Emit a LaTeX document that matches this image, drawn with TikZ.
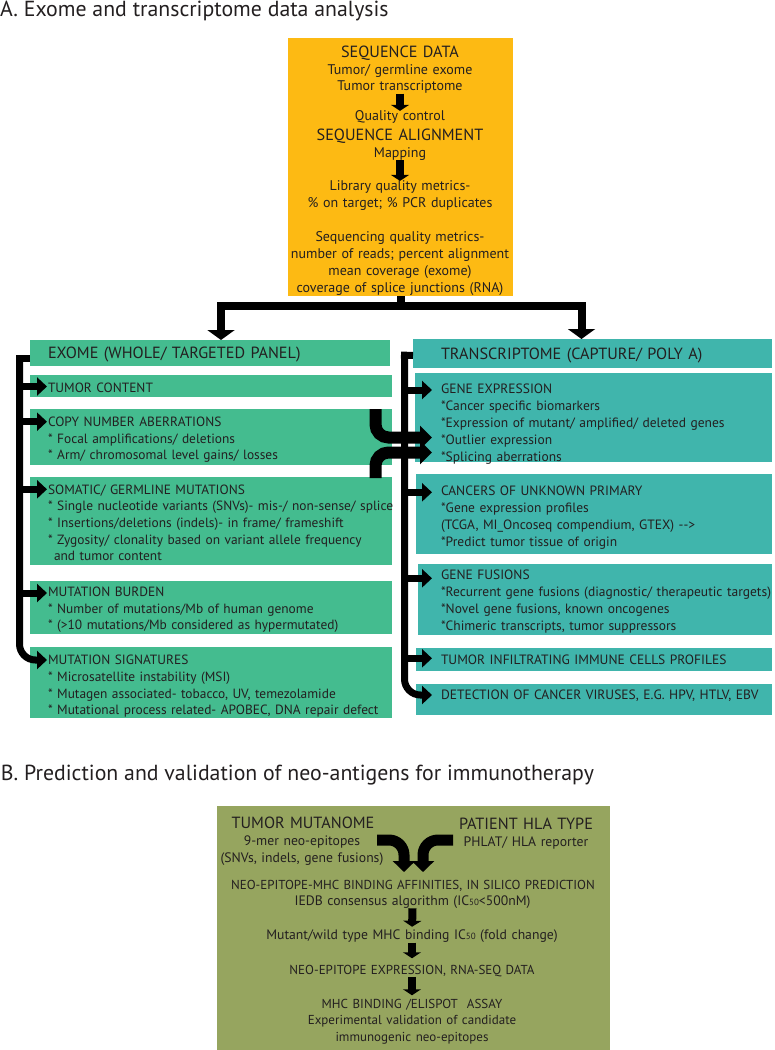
\documentclass[tikz,border=0pt]{standalone}
\usepackage{fontspec}
\setmainfont{PT Sans}
\usetikzlibrary{arrows.meta}
\definecolor{ybox}{RGB}{253,186,19}
\definecolor{gbox}{RGB}{68,188,143}
\definecolor{tbox}{RGB}{64,181,172}
\definecolor{obox}{RGB}{150,165,95}
\definecolor{ink}{RGB}{35,31,32}
\newcommand\fsTitle{\fontsize{21.8}{25}\selectfont}
\newcommand\fsHead{\fontsize{16.2}{18}\selectfont}
\newcommand\fsBody{\fontsize{14}{16.9}\selectfont}
\newcommand\fsLeft{\fontsize{13.4}{16.7}\selectfont}
\newcommand\fsRight{\fontsize{13.5}{17.1}\selectfont}
\newcommand\fsOl{\fontsize{13.7}{16.3}\selectfont}
\newcommand\fsOc{\fontsize{13}{16.3}\selectfont}
\newcommand\icsub{{\fontsize{9}{8}\selectfont 50}}
\begin{document}
\begin{tikzpicture}[x=1pt,y=-1pt,
  box/.style={inner sep=0pt,outer sep=0pt,anchor=north west},
  lt/.style={inner sep=0pt,outer sep=0pt,anchor=base west,align=left,text width=360pt,text=ink,font=\fsLeft},
  rt/.style={lt,font=\fsRight},
  ct/.style={inner sep=0pt,outer sep=0pt,anchor=base,align=center,text width=380pt,text=ink,font=\fsBody},
  hd/.style={lt,font=\fsHead},
  ttl/.style={inner sep=0pt,outer sep=0pt,anchor=base west,text=ink,font=\fsTitle},
  conn/.style={draw=black,line width=8pt,-{Triangle[width=27pt,length=10pt]}},
  brk/.style={draw=black,line width=7pt},
  brkarr/.style={draw=black,line width=7pt,-{Triangle[width=18pt,length=10pt]}},
  xarr/.style={draw=black,line width=12pt,rounded corners=13pt,-{Triangle[width=23pt,length=12pt]}},
  sarr/.style={draw=black,line width=8pt,-{Triangle[width=18pt,length=6pt]}},
]
\useasboundingbox (0,0) rectangle (775,1050);

% ---------- Titles
\node[ttl] (tA) at (0,16) {A. Exome and transcriptome data analysis};
\node[ttl] (tB) at (1,780.5) {B. Prediction and validation of neo-antigens for immunotherapy};

% ---------- Sequence box
\node[box,fill=ybox,minimum width=225pt,minimum height=258pt] (seq) at (288,38) {};
\node[ct,font=\fsHead] (sd) at (400,57.5) {SEQUENCE DATA};
\node[ct] (sd2) at (400,74) {Tumor/ germline exome\\Tumor transcriptome};
\node[ct] (qc) at (400,120.8) {Quality control};
\node[ct,font=\fsHead] (sa) at (400,140.8) {SEQUENCE ALIGNMENT};
\node[ct] (mp) at (400,157.5) {Mapping};
\node[ct] (lq) at (400,190.8) {Library quality metrics-\\\% on target; \% PCR duplicates};
\node[ct] (sq) at (400,241.5) {Sequencing quality metrics-\\number of reads; percent alignment\\mean coverage (exome)\\coverage of splice junctions (RNA)};
\draw[sarr] (sd2.south) -- (qc.north);
\draw[sarr] (mp.south) -- (lq.north);

% ---------- Exome column
\node[box,fill=gbox,minimum width=360pt,minimum height=26pt] (exh) at (30,340) {};
\node[box,fill=gbox,minimum width=362pt,minimum height=22pt] (tc) at (30,375) {};
\node[box,fill=gbox,minimum width=362pt,minimum height=56pt] (cn) at (30,409) {};
\node[box,fill=gbox,minimum width=362pt,minimum height=88pt] (sg) at (30,477) {};
\node[box,fill=gbox,minimum width=362pt,minimum height=53pt] (mb) at (30,581) {};
\node[box,fill=gbox,minimum width=362pt,minimum height=71pt] (ms) at (30,647) {};

\node[hd] (exht) at (48,358.5) {EXOME (WHOLE/ TARGETED PANEL)};
\node[lt] (tct) at (48,392) {TUMOR CONTENT};
\node[lt] (cnt) at (48,426.3) {COPY NUMBER ABERRATIONS\\{}* Focal amplifications/ deletions\\{}* Arm/ chromosomal level gains/ losses};
\node[lt] (sgt) at (48,494) {SOMATIC/ GERMLINE MUTATIONS\\{}* Single nucleotide variants (SNVs)- mis-/ non-sense/ splice\\{}* Insertions/deletions (indels)- in frame/ frameshift\\{}* Zygosity/ clonality based on variant allele frequency\\\hspace*{6pt}and tumor content};
\node[lt] (mbt) at (48,596.3) {MUTATION BURDEN\\{}* Number of mutations/Mb of human genome\\{}* (>10 mutations/Mb considered as hypermutated)};
\node[lt] (mst) at (48,664.6) {MUTATION SIGNATURES\\{}* Microsatellite instability (MSI)\\{}* Mutagen associated- tobacco, UV, temezolamide\\{}* Mutational process related- APOBEC, DNA repair defect};

% ---------- Transcriptome column
\node[box,fill=tbox,minimum width=359pt,minimum height=29pt] (trh) at (413,339) {};
\node[box,fill=tbox,minimum width=357pt,minimum height=89pt] (ge) at (415,373) {};
\node[box,fill=tbox,minimum width=356pt,minimum height=80pt] (cu) at (416,474) {};
\node[box,fill=tbox,minimum width=354pt,minimum height=71pt] (gf) at (418,564) {};
\node[box,fill=tbox,minimum width=356pt,minimum height=23pt] (ti) at (416,648) {};
\node[box,fill=tbox,minimum width=356pt,minimum height=31pt] (dv) at (416,684) {};

\node[hd] (trht) at (441,359) {TRANSCRIPTOME (CAPTURE/ POLY A)};
\node[rt] (get) at (441,393) {GENE EXPRESSION\\{}*Cancer specific biomarkers\\{}*Expression of mutant/ amplified/ deleted genes\\{}*Outlier expression\\{}*Splicing aberrations};
\node[rt] (cut) at (441,495.3) {CANCERS OF UNKNOWN PRIMARY\\{}*Gene expression profiles\\(TCGA, MI\_Oncoseq compendium, GTEX) -{}-{}>\\{}*Predict tumor tissue of origin};
\node[rt] (gft) at (441,579.6) {GENE FUSIONS\\{}*Recurrent gene fusions (diagnostic/ therapeutic targets)\\{}*Novel gene fusions, known oncogenes\\{}*Chimeric transcripts, tumor suppressors};
\node[rt] (tit) at (441,664.6) {TUMOR INFILTRATING IMMUNE CELLS PROFILES};
\node[rt] (dvt) at (441,699) {DETECTION OF CANCER VIRUSES, E.G. HPV, HTLV, EBV};

% ---------- Split connector
\coordinate (split) at (400.5,306);
\coordinate (exin) at (221,340);
\coordinate (trin) at (581.5,339);
\draw[conn] (seq.south) -- (split) -| (exin);
\draw[conn] (split) -| (trin);

% ---------- Left bracket
\draw[brk] ([yshift=-5pt]exh.west) -- (16,358);
\draw[brkarr,rounded corners=16pt] (19.5,358) -- (19.5,660) -- (47,660);
\draw[brkarr] (19.5,386.5) -- (47,386.5);
\draw[brkarr] (19.5,421.7) -- (47,421.7);
\draw[brkarr] (19.5,489.3) -- (47,489.3);
\draw[brkarr] (19.5,593) -- (47,593);

% ---------- Crossing arrows (exome -> gene expression)
\coordinate (x1s) at (375.5,409);
\coordinate (x1t) at (432,437.5);
\coordinate (x2s) at (375.5,478);
\coordinate (x2t) at (432,452.5);
\draw[xarr] (x1s) -- (375.5,437.5) -- (x1t);
\draw[xarr] (x2s) -- (375.5,452.5) -- (x2t);

% ---------- Right bracket
\draw[brk] ([yshift=-2pt]trh.west) -- (401,355);
\draw[brkarr,rounded corners=16pt] (404.5,355) -- (404.5,695) -- (432,695);
\draw[brkarr] (404.5,390) -- (432,390);
\draw[brkarr] (404.5,492.3) -- (432,492.3);
\draw[brkarr] (404.5,578.3) -- (432,578.3);
\draw[brkarr] (404.5,658.3) -- (432,658.3);

% ---------- Section B box
\node[box,fill=obox,minimum width=393pt,minimum height=244pt] (olive) at (217,806) {};
\node[ct,font=\fsHead] (tm) at (303,828.5) {TUMOR MUTANOME};
\node[ct,font=\fsOl] (tm2) at (302,845.7) {9-mer neo-epitopes\\(SNVs, indels, gene fusions)};
\node[ct,font=\fsHead] (hla) at (526,829) {PATIENT HLA TYPE};
\node[ct,font=\fsOl] (hla2) at (526,846.4) {PHLAT/ HLA reporter};
\node[ct,font=\fsOc] (neo) at (413,889.5) {NEO-EPITOPE-MHC BINDING AFFINITIES, IN SILICO PREDICTION};
\node[ct,font=\fsOl] (iedb) at (412.5,905.3) {IEDB consensus algorithm (IC\icsub<500nM)};
\node[ct,font=\fsOl] (mut) at (412,939.5) {Mutant/wild type MHC binding IC\icsub\ (fold change)};
\node[ct,font=\fsOc] (expr) at (412,974.5) {NEO-EPITOPE EXPRESSION, RNA-SEQ DATA};
\node[ct,font=\fsOl] (mhc) at (412,1008.5) {\fsOc MHC BINDING /ELISPOT\ \ ASSAY\\Experimental validation of candidate\\immunogenic neo-epitopes};

\coordinate (m1s) at (377,840);
\coordinate (m1t) at (404,872);
\coordinate (m2s) at (453,840);
\coordinate (m2t) at (423,872);
\draw[xarr,line width=11pt,rounded corners=15pt,-{Triangle[width=22pt,length=11pt]}] (m1s) -- (404,840) -- (m1t);
\draw[xarr,line width=11pt,rounded corners=15pt,-{Triangle[width=22pt,length=11pt]}] (m2s) -- (423,840) -- (m2t);

\draw[sarr,shorten >=3pt] (iedb.south) -- (mut.north);
\draw[sarr,shorten >=7pt] (mut.south) -- (expr.north);
\draw[sarr,shorten >=4pt] (expr.south) -- (mhc.north);
\end{tikzpicture}
\end{document}
